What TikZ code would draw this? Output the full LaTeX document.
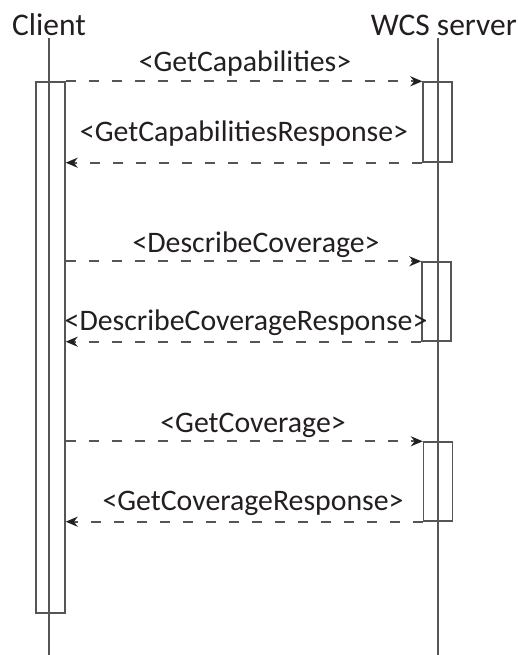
\documentclass[tikz,border=0pt]{standalone}
\usepackage{fontspec}
\setmainfont{Carlito}
\usetikzlibrary{arrows.meta}
\definecolor{linegray}{RGB}{85,85,85}
\definecolor{textcol}{RGB}{35,31,32}
\begin{document}
\begin{tikzpicture}[x=1pt,y=-1pt,
  lifeline/.style={draw=linegray, line width=1.4pt},
  actbox/.style={draw=linegray, line width=1.4pt, minimum width=29pt, inner sep=0pt},
  msg/.style={draw=linegray, line width=1.8pt, dash pattern=on 10pt off 13pt,
    -{Stealth[length=12pt,width=10pt,color=textcol,fill=textcol]}},
  lbl/.style={font=\fontsize{29.8}{33}\selectfont, text=textcol, inner sep=0pt, anchor=base},
  actor/.style={font=\fontsize{31.5}{35}\selectfont, text=textcol, inner sep=0pt, anchor=base}]
\useasboundingbox (0,0) rectangle (517,655);
% actors
\node[actor] (client) at (49,36) {Client};
\node[actor, anchor=base east] (server) at (517,36) {WCS server};
% lifelines
\coordinate (cltop) at (49,38);
\coordinate (clbot) at (49,655);
\coordinate (svtop) at (438,38);
\coordinate (svbot) at (438,655);
\draw[lifeline] (cltop) -- (clbot);
\draw[lifeline] (svtop) -- (svbot);
% activation boxes
\node[actbox, minimum height=531pt] (ca) at (50.5,347.5) {};
\node[actbox, minimum height=80pt] (s1) at (437.5,122) {};
\node[actbox, minimum height=79pt] (s2) at (436.5,301.5) {};
\node[actbox, minimum height=79pt] (s3) at (438,481.5) {};
% messages
\draw[msg] (ca.north east) -- (s1.north west);
\draw[msg] (s1.south west) -- (s1.south west -| ca.east);
\draw[msg] (s2.north west -| ca.east) -- (s2.north west);
\draw[msg] (s2.south west) -- (s2.south west -| ca.east);
\draw[msg] (s3.north west -| ca.east) -- (s3.north west);
\draw[msg] (s3.south west) -- (s3.south west -| ca.east);
% labels
\node[lbl] (l1) at (245,72) {<GetCapabilities>};
\node[lbl] (l2) at (244,142) {<GetCapabilitiesResponse>};
\node[lbl] (l3) at (256,252) {<DescribeCoverage>};
\node[lbl] (l4) at (246,330) {<DescribeCoverageResponse>};
\node[lbl] (l5) at (253,432) {<GetCoverage>};
\node[lbl] (l6) at (253,510) {<GetCoverageResponse>};
\end{tikzpicture}
\end{document}
